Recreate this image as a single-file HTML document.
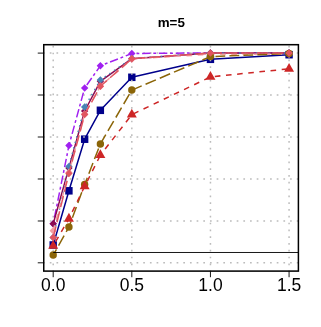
<!DOCTYPE html>
<html><head><meta charset="utf-8"><title>m=5</title>
<style>html,body{margin:0;padding:0;background:#fff;width:321px;height:327px;overflow:hidden;font-family:"Liberation Sans",sans-serif;}</style>
</head><body>
<svg width="321" height="327" viewBox="0 0 321 327" style="position:absolute;left:0;top:0;will-change:transform">
<rect width="321" height="327" fill="#fff"/>
<defs><clipPath id="c"><rect x="43.75" y="43.88" width="254.65" height="222.24"/></clipPath></defs>
<g transform="scale(1,1.0187)">
<g clip-path="url(#c)">
<polyline points="53.20,240.50 68.93,187.30 84.65,136.64 100.38,108.28 131.82,75.88 210.45,58.21 289.07,53.70" fill="none" stroke="#00008b" stroke-width="1.5" stroke-linejoin="round"/>
<rect x="49.50" y="236.80" width="7.40" height="7.40" fill="#00008b"/>
<rect x="65.23" y="183.60" width="7.40" height="7.40" fill="#00008b"/>
<rect x="80.95" y="132.94" width="7.40" height="7.40" fill="#00008b"/>
<rect x="96.67" y="104.58" width="7.40" height="7.40" fill="#00008b"/>
<rect x="128.12" y="72.18" width="7.40" height="7.40" fill="#00008b"/>
<rect x="206.75" y="54.51" width="7.40" height="7.40" fill="#00008b"/>
<rect x="285.38" y="50.00" width="7.40" height="7.40" fill="#00008b"/>
<line x1="53.20" y1="266.12" x2="53.20" y2="43.88" stroke="#bcbcbc" stroke-width="1.5" stroke-dasharray="1.7 4.975" stroke-dashoffset="0.85"/>
<line x1="131.82" y1="266.12" x2="131.82" y2="43.88" stroke="#bcbcbc" stroke-width="1.5" stroke-dasharray="1.7 4.975" stroke-dashoffset="0.85"/>
<line x1="210.45" y1="266.12" x2="210.45" y2="43.88" stroke="#bcbcbc" stroke-width="1.5" stroke-dasharray="1.7 4.975" stroke-dashoffset="0.85"/>
<line x1="289.07" y1="266.12" x2="289.07" y2="43.88" stroke="#bcbcbc" stroke-width="1.5" stroke-dasharray="1.7 4.975" stroke-dashoffset="0.85"/>
<line x1="43.95" y1="52.13" x2="298.4" y2="52.13" stroke="#bcbcbc" stroke-width="1.5" stroke-dasharray="1.7 4.975" stroke-dashoffset="0.85"/>
<line x1="43.95" y1="93.26" x2="298.4" y2="93.26" stroke="#bcbcbc" stroke-width="1.5" stroke-dasharray="1.7 4.975" stroke-dashoffset="0.85"/>
<line x1="43.95" y1="134.49" x2="298.4" y2="134.49" stroke="#bcbcbc" stroke-width="1.5" stroke-dasharray="1.7 4.975" stroke-dashoffset="0.85"/>
<line x1="43.95" y1="175.71" x2="298.4" y2="175.71" stroke="#bcbcbc" stroke-width="1.5" stroke-dasharray="1.7 4.975" stroke-dashoffset="0.85"/>
<line x1="43.95" y1="216.94" x2="298.4" y2="216.94" stroke="#bcbcbc" stroke-width="1.5" stroke-dasharray="1.7 4.975" stroke-dashoffset="0.85"/>
<line x1="43.95" y1="257.98" x2="298.4" y2="257.98" stroke="#bcbcbc" stroke-width="1.5" stroke-dasharray="1.7 4.975" stroke-dashoffset="0.85"/>
<polyline points="53.20,219.59 68.93,142.93 84.65,86.38 100.38,64.59 131.82,52.52 210.45,51.93 289.07,51.93" fill="none" stroke="#a020f0" stroke-width="1.5" stroke-linejoin="round" stroke-dasharray="2.80 2.80 8.40 2.80" stroke-dashoffset="16.19"/>
<path d="M53.20 215.89L56.90 219.59L53.20 223.29L49.50 219.59Z" fill="#a020f0"/>
<path d="M68.93 139.23L72.63 142.93L68.93 146.63L65.23 142.93Z" fill="#a020f0"/>
<path d="M84.65 82.68L88.35 86.38L84.65 90.08L80.95 86.38Z" fill="#a020f0"/>
<path d="M100.38 60.89L104.08 64.59L100.38 68.29L96.67 64.59Z" fill="#a020f0"/>
<path d="M131.82 48.82L135.52 52.52L131.82 56.22L128.12 52.52Z" fill="#a020f0"/>
<path d="M210.45 48.23L214.15 51.93L210.45 55.63L206.75 51.93Z" fill="#a020f0"/>
<path d="M289.07 48.23L292.77 51.93L289.07 55.63L285.38 51.93Z" fill="#a020f0"/>
<polyline points="53.20,219.59 68.93,164.82 84.65,108.96 100.38,79.81 131.82,57.62 210.45,52.13 289.07,52.13" fill="none" stroke="#8b0a50" stroke-width="1.5" stroke-linejoin="round"/>
<path d="M53.20 215.89L56.90 219.59L53.20 223.29L49.50 219.59Z" fill="#8b0a50"/>
<path d="M68.93 161.12L72.63 164.82L68.93 168.52L65.23 164.82Z" fill="#8b0a50"/>
<path d="M84.65 105.26L88.35 108.96L84.65 112.66L80.95 108.96Z" fill="#8b0a50"/>
<path d="M100.38 76.11L104.08 79.81L100.38 83.51L96.67 79.81Z" fill="#8b0a50"/>
<path d="M131.82 53.92L135.52 57.62L131.82 61.32L128.12 57.62Z" fill="#8b0a50"/>
<path d="M210.45 48.43L214.15 52.13L210.45 55.83L206.75 52.13Z" fill="#8b0a50"/>
<path d="M289.07 48.43L292.77 52.13L289.07 55.83L285.38 52.13Z" fill="#8b0a50"/>
<polyline points="53.20,233.14 68.93,163.54 84.65,105.13 100.38,78.53 131.82,57.43 210.45,52.13 289.07,52.13" fill="none" stroke="#4682b4" stroke-width="1.5" stroke-linejoin="round" stroke-dasharray="1.40 4.20" stroke-dashoffset="0.00"/>
<path d="M53.20 229.44L56.90 233.14L53.20 236.84L49.50 233.14Z" fill="#4682b4"/>
<path d="M68.93 159.84L72.63 163.54L68.93 167.24L65.23 163.54Z" fill="#4682b4"/>
<path d="M84.65 101.43L88.35 105.13L84.65 108.83L80.95 105.13Z" fill="#4682b4"/>
<path d="M100.38 74.83L104.08 78.53L100.38 82.23L96.67 78.53Z" fill="#4682b4"/>
<path d="M131.82 53.73L135.52 57.43L131.82 61.13L128.12 57.43Z" fill="#4682b4"/>
<path d="M210.45 48.43L214.15 52.13L210.45 55.83L206.75 52.13Z" fill="#4682b4"/>
<path d="M289.07 48.43L292.77 52.13L289.07 55.83L285.38 52.13Z" fill="#4682b4"/>
<polyline points="53.20,226.47 68.93,169.33 84.65,111.91 100.38,84.62 131.82,57.82 210.45,53.30 289.07,53.21" fill="none" stroke="#f4a0a4" stroke-width="1.5" stroke-linejoin="round" stroke-dasharray="5.60 5.60" stroke-dashoffset="0.00"/>
<path d="M53.20 222.77L56.90 226.47L53.20 230.17L49.50 226.47Z" fill="#f4a0a4"/>
<path d="M68.93 165.63L72.63 169.33L68.93 173.03L65.23 169.33Z" fill="#f4a0a4"/>
<path d="M84.65 108.21L88.35 111.91L84.65 115.61L80.95 111.91Z" fill="#f4a0a4"/>
<path d="M100.38 80.92L104.08 84.62L100.38 88.32L96.67 84.62Z" fill="#f4a0a4"/>
<path d="M131.82 54.12L135.52 57.82L131.82 61.52L128.12 57.82Z" fill="#f4a0a4"/>
<path d="M210.45 49.60L214.15 53.30L210.45 57.00L206.75 53.30Z" fill="#f4a0a4"/>
<path d="M289.07 49.51L292.77 53.21L289.07 56.91L285.38 53.21Z" fill="#f4a0a4"/>
<polyline points="53.20,250.42 68.93,222.93 84.65,181.11 100.38,141.26 131.82,88.45 210.45,55.56" fill="none" stroke="#8b6508" stroke-width="1.5" stroke-linejoin="round" stroke-dasharray="11.20 4.20" stroke-dashoffset="4.64"/>
<polyline points="210.45,55.56 289.07,52.52" fill="none" stroke="#8b6508" stroke-width="1.5" stroke-linejoin="round" stroke-dasharray="9.80 4.20" stroke-dashoffset="9.00"/>
<circle cx="53.20" cy="250.42" r="3.7" fill="#8b6508"/>
<circle cx="68.93" cy="222.93" r="3.7" fill="#8b6508"/>
<circle cx="84.65" cy="181.11" r="3.7" fill="#8b6508"/>
<circle cx="100.38" cy="141.26" r="3.7" fill="#8b6508"/>
<circle cx="131.82" cy="88.45" r="3.7" fill="#8b6508"/>
<circle cx="210.45" cy="55.56" r="3.7" fill="#8b6508"/>
<circle cx="289.07" cy="52.52" r="3.7" fill="#8b6508"/>
<polyline points="53.20,241.29 68.93,214.69 84.65,182.98 100.38,152.35" fill="none" stroke="#cd2626" stroke-width="1.5" stroke-linejoin="round" stroke-dasharray="5.60 5.60" stroke-dashoffset="6.50"/>
<polyline points="100.38,152.35 131.82,112.50 210.45,75.49 289.07,67.54" fill="none" stroke="#cd2626" stroke-width="1.5" stroke-linejoin="round" stroke-dasharray="5.60 5.60" stroke-dashoffset="3.53"/>
<path d="M53.20 235.55L58.17 244.16L48.23 244.16Z" fill="#cd2626"/>
<path d="M68.93 208.95L73.90 217.56L63.95 217.56Z" fill="#cd2626"/>
<path d="M84.65 177.24L89.62 185.85L79.68 185.85Z" fill="#cd2626"/>
<path d="M100.38 146.61L105.35 155.22L95.40 155.22Z" fill="#cd2626"/>
<path d="M131.82 106.76L136.80 115.37L126.85 115.37Z" fill="#cd2626"/>
<path d="M210.45 69.75L215.42 78.36L205.48 78.36Z" fill="#cd2626"/>
<path d="M289.07 61.80L294.05 70.41L284.10 70.41Z" fill="#cd2626"/>
<polyline points="53.20,233.14 68.93,170.22 84.65,112.50 100.38,84.62 131.82,57.62 210.45,52.13 289.07,52.13" fill="none" stroke="#e15560" stroke-width="1.5" stroke-linejoin="round" stroke-dasharray="11.20 4.20" stroke-dashoffset="0.00"/>
<path d="M53.20 229.44L56.90 233.14L53.20 236.84L49.50 233.14Z" fill="#e15560"/>
<path d="M68.93 166.52L72.63 170.22L68.93 173.92L65.23 170.22Z" fill="#e15560"/>
<path d="M84.65 108.80L88.35 112.50L84.65 116.20L80.95 112.50Z" fill="#e15560"/>
<path d="M100.38 80.92L104.08 84.62L100.38 88.32L96.67 84.62Z" fill="#e15560"/>
<path d="M131.82 53.92L135.52 57.62L131.82 61.32L128.12 57.62Z" fill="#e15560"/>
<path d="M210.45 48.43L214.15 52.13L210.45 55.83L206.75 52.13Z" fill="#e15560"/>
<path d="M289.07 48.43L292.77 52.13L289.07 55.83L285.38 52.13Z" fill="#e15560"/>
<line x1="53.20" y1="247.86" x2="298.4" y2="247.86" stroke="#000" stroke-width="0.9"/>
</g>
<rect x="43.75" y="43.88" width="254.65" height="222.24" fill="none" stroke="#000" stroke-width="1.5"/>
<line x1="37.75" y1="52.13" x2="43.75" y2="52.13" stroke="#000" stroke-width="0.9"/>
<line x1="37.75" y1="93.26" x2="43.75" y2="93.26" stroke="#000" stroke-width="0.9"/>
<line x1="37.75" y1="134.49" x2="43.75" y2="134.49" stroke="#000" stroke-width="0.9"/>
<line x1="37.75" y1="175.71" x2="43.75" y2="175.71" stroke="#000" stroke-width="0.9"/>
<line x1="37.75" y1="216.94" x2="43.75" y2="216.94" stroke="#000" stroke-width="0.9"/>
<line x1="37.75" y1="257.98" x2="43.75" y2="257.98" stroke="#000" stroke-width="0.9"/>
<line x1="53.20" y1="266.12" x2="53.20" y2="272.12" stroke="#000" stroke-width="0.9"/>
<line x1="131.82" y1="266.12" x2="131.82" y2="272.12" stroke="#000" stroke-width="0.9"/>
<line x1="210.45" y1="266.12" x2="210.45" y2="272.12" stroke="#000" stroke-width="0.9"/>
<line x1="289.07" y1="266.12" x2="289.07" y2="272.12" stroke="#000" stroke-width="0.9"/>
<text transform="translate(53.20,285.95) scale(1,1.03)" x="0" y="0" text-anchor="middle" font-family="Liberation Sans, sans-serif" font-size="17.5" fill="#000">0.0</text>
<text transform="translate(131.82,285.95) scale(1,1.03)" x="0" y="0" text-anchor="middle" font-family="Liberation Sans, sans-serif" font-size="17.5" fill="#000">0.5</text>
<text transform="translate(210.45,285.95) scale(1,1.03)" x="0" y="0" text-anchor="middle" font-family="Liberation Sans, sans-serif" font-size="17.5" fill="#000">1.0</text>
<text transform="translate(289.07,285.95) scale(1,1.03)" x="0" y="0" text-anchor="middle" font-family="Liberation Sans, sans-serif" font-size="17.5" fill="#000">1.5</text>
<text x="171.3" y="26.65" text-anchor="middle" font-family="Liberation Sans, sans-serif" font-weight="bold" font-size="13.4" fill="#000">m=5</text>
</g>
</svg>
</body></html>
